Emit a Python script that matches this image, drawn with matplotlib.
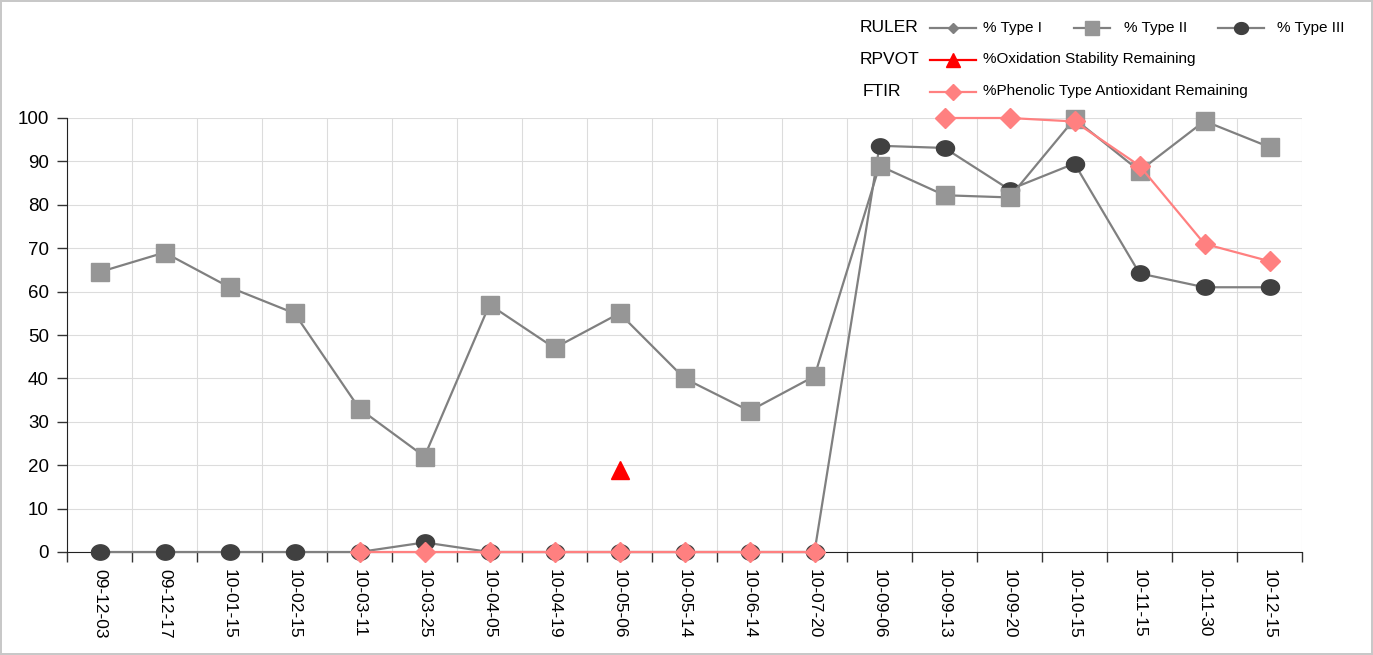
import matplotlib
matplotlib.use("Agg")
import matplotlib.pyplot as plt
from matplotlib.lines import Line2D
from matplotlib.path import Path
import numpy as np

nan = np.nan
dates = ["09-12-03", "09-12-17", "10-01-15", "10-02-15", "10-03-11", "10-03-25",
         "10-04-05", "10-04-19", "10-05-06", "10-05-14", "10-06-14", "10-07-20",
         "10-09-06", "10-09-13", "10-09-20", "10-10-15", "10-11-15", "10-11-30", "10-12-15"]
type1 = [nan] * 19
type2 = [64.5, 69, 61, 55, 33, 22, 57, 47, 55, 40, 32.5, 40.5,
         89, 82.2, 81.7, 99.8, 87.8, 99.3, 93.3]
type3 = [0, 0, 0, 0, 0, 2.2, 0, 0, 0, 0, 0, 0,
         93.6, 93.1, 83.5, 89.5, 64.2, 61, 61]
rpvot = [nan] * 8 + [18.8] + [nan] * 10
ftir = [nan] * 4 + [0, 0, 0, 0, 0, 0, 0, 0, nan, 100, 100, 99.2, 89, 71, 67]

plt.rcParams['font.family'] = ['Liberation Sans', 'DejaVu Sans']

# ellipse marker (wider than tall)
t = np.linspace(0, 2 * np.pi, 60)
ell = Path(np.column_stack([np.cos(t), 0.85 * np.sin(t)]), closed=True)

fig = plt.figure(figsize=(13.73, 6.55), dpi=100)
fig.patch.set_edgecolor('#c8c8c8')
fig.patch.set_linewidth(1.5)
ax = fig.add_axes([67/1373, 1-552/655, 1235/1373, 434/655])

x = np.arange(len(dates))
ax.plot(x, type1, color='#808080', lw=1.5, marker='D', ms=5, mfc='#808080', mec='#808080', zorder=3, clip_on=False)
ax.plot(x, type3, color='#808080', lw=1.6, marker=ell, ms=13, mfc='#404040', mec='#404040', zorder=3, clip_on=False)
ax.plot(x, type2, color='#808080', lw=1.6, marker='s', ms=12.5, mfc='#969696', mec='#969696', zorder=4, clip_on=False)
ax.plot(x, ftir, color='#ff8080', lw=1.6, marker='D', ms=10, mfc='#ff8080', mec='#ff8080', zorder=5, clip_on=False)
ax.plot(x, rpvot, color='#ff0000', lw=1.6, marker='^', ms=13, mfc='#ff0000', mec='#ff0000', zorder=5, linestyle='none', clip_on=False)

ax.set_xlim(-0.5, len(dates) - 0.5)
ax.set_ylim(0, 100)
ax.set_yticks(np.arange(0, 101, 10))
ax.set_xticks(x)
ax.set_xticklabels(dates, rotation=270, fontsize=12.5)
ax.set_xticks(np.arange(-0.5, len(dates), 1), minor=True)
ax.tick_params(axis='x', which='major', length=0, pad=12)
ax.tick_params(axis='x', which='minor', length=7, width=1, color='#333333')
ax.tick_params(axis='y', length=7, width=1, labelsize=13.5, pad=6, color='#333333')
ax.grid(True, axis='x', which='minor', color='#dcdcdc', lw=0.8)
ax.grid(True, axis='y', which='major', color='#dcdcdc', lw=0.8)
ax.set_axisbelow(True)
for s in ['top', 'right']:
    ax.spines[s].set_visible(False)
ax.spines['left'].set_color('#222222')
ax.spines['bottom'].set_color('#222222')

W, H = 1373, 655
def fx(px): return px / W
def fy(py): return 1 - py / H

def handle(x0, x1, y, color, marker, ms, mfc):
    fig.add_artist(Line2D([fx(x0), fx(x1)], [fy(y), fy(y)], color=color, lw=1.6,
                          transform=fig.transFigure))
    fig.add_artist(Line2D([fx((x0 + x1) / 2)], [fy(y)], marker=marker, ms=ms,
                          mfc=mfc, mec=mfc, lw=0, transform=fig.transFigure))

fig.text(fx(860), fy(28), "RULER", fontsize=12.5, va='center', ha='left')
handle(930, 976, 28, '#808080', 'D', 5, '#808080')
fig.text(fx(983), fy(28), "% Type I", fontsize=11, va='center', ha='left')
handle(1074, 1110, 28, '#808080', 's', 10, '#969696')
fig.text(fx(1124), fy(28), "% Type II", fontsize=11, va='center', ha='left')
handle(1218, 1264, 28, '#808080', ell, 10, '#404040')
fig.text(fx(1277), fy(28), "% Type III", fontsize=11, va='center', ha='left')

fig.text(fx(860), fy(59), "RPVOT", fontsize=12.5, va='center', ha='left')
handle(930, 976, 60, '#ff0000', '^', 10, '#ff0000')
fig.text(fx(983), fy(59), "%Oxidation Stability Remaining", fontsize=11, va='center', ha='left')

fig.text(fx(863), fy(91), "FTIR", fontsize=12.5, va='center', ha='left')
handle(930, 976, 92, '#ff8080', 'D', 8, '#ff8080')
fig.text(fx(983), fy(91), "%Phenolic Type Antioxidant Remaining", fontsize=11, va='center', ha='left')

fig.savefig("out.png", dpi=100, edgecolor=fig.get_edgecolor())
